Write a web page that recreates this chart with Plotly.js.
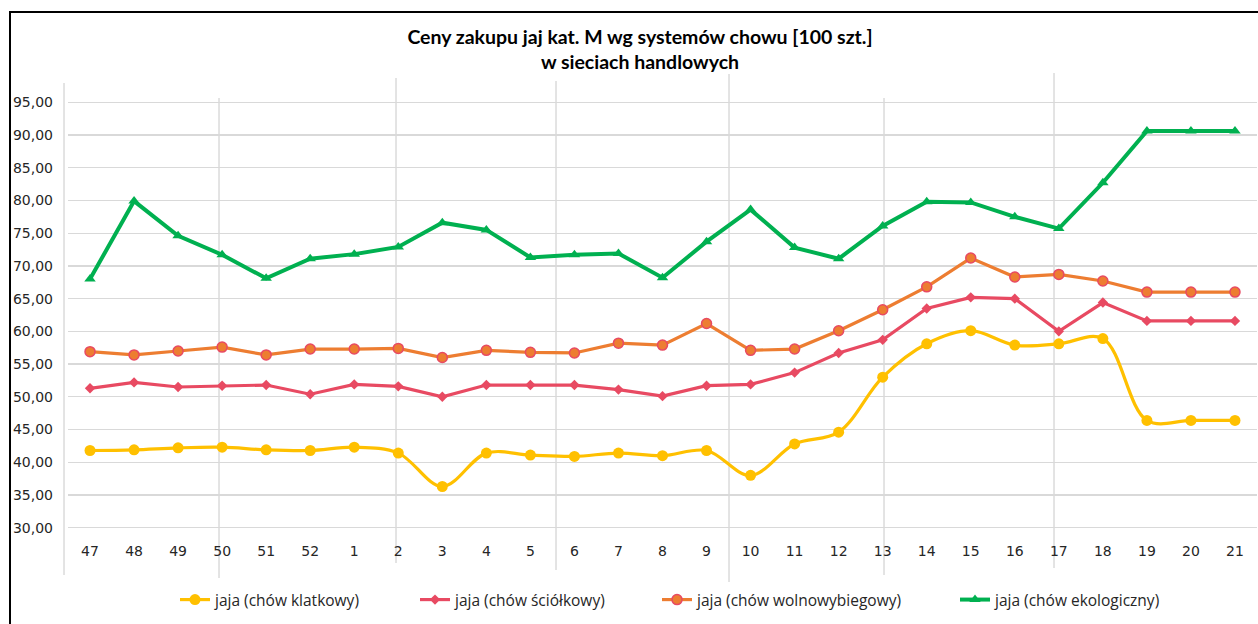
<!DOCTYPE html>
<html><head><meta charset="utf-8">
<script src="https://cdn.plot.ly/plotly-3.0.1.min.js"></script>
<style>
html,body{margin:0;padding:0;background:#fff;overflow:hidden}
#frame{position:absolute;left:9px;top:11px;width:1400px;height:800px;border-left:2px solid #000;border-top:2px solid #000;box-sizing:border-box}
#chart{position:absolute;left:0;top:0;width:1258px;height:624px}
</style></head><body>
<div id="frame"></div><div id="chart"></div>
<script>
const weeks = ['47','48','49','50','51','52','1','2','3','4','5','6','7','8','9','10','11','12','13','14','15','16','17','18','19','20','21'];
const klatkowy = [41.8,41.9,42.2,42.3,41.9,41.8,42.3,41.4,36.3,41.4,41.1,40.9,41.4,41.0,41.8,38.0,42.8,44.6,53.0,58.1,60.1,57.9,58.1,58.9,46.4,46.4,46.4];
const sciolkowy = [51.3,52.2,51.5,51.7,51.8,50.4,51.9,51.6,50.0,51.8,51.8,51.8,51.1,50.1,51.7,51.9,53.7,56.7,58.7,63.5,65.2,65.0,60.0,64.4,61.6,61.6,61.6];
const wolnowybiegowy = [56.9,56.4,57.0,57.6,56.4,57.3,57.3,57.4,56.0,57.1,56.8,56.7,58.2,57.9,61.2,57.1,57.3,60.1,63.3,66.8,71.2,68.3,68.7,67.7,66.0,66.0,66.0];
const ekologiczny = [68.0,79.9,74.6,71.7,68.1,71.1,71.8,72.9,76.6,75.5,71.3,71.7,71.9,68.2,73.7,78.6,72.8,71.1,76.1,79.8,79.7,77.5,75.7,82.7,90.6,90.6,90.6];
const seriesNames = ['jaja (chów klatkowy)','jaja (chów ściółkowy)','jaja (chów wolnowybiegowy)','jaja (chów ekologiczny)'];
const yTicks = [30,35,40,45,50,55,60,65,70,75,80,85,90,95];
const yTickText = yTicks.map(v => v.toFixed(2).replace('.', ','));

// plot-area geometry (pixels)
const L = 68, R = 1257, T = 99, B = 531;
const W = R - L, H = B - T;
const px = p => (p - L) / W;
const py = p => (B - p) / H;

// decorative vertical separator lines [x, yTop, yBottom] in px
const separators = [[64,83,575],[219,98,578],[396,78,563],[556,81,570],[729,74,582],[884,98,575],[1054,73,568]];
const shapes = separators.map(s => ({
  type:'line', xref:'paper', yref:'paper', x0:px(s[0]), x1:px(s[0]), y0:py(s[1]), y1:py(s[2]),
  line:{color:'#c8c8c8', width:1}, layer:'below'
}));

const textColor = '#262626';
const legFont = {family:'Open Sans, sans-serif', size:15.5, color:textColor};
const legendX = [175, 415, 657, 955];
const mkLegend = x => ({orientation:'h', x:px(x), xanchor:'left', y:py(600), yanchor:'middle', bgcolor:'rgba(0,0,0,0)', font:legFont, itemclick:false});

const traces = [
  {x:weeks, y:klatkowy, name:seriesNames[0], type:'scatter', mode:'lines+markers', legend:'legend',
   line:{color:'#FFC000', width:3.2, shape:'spline', smoothing:1}, marker:{symbol:'circle', size:11, color:'#FFC000'}, cliponaxis:false},
  {x:weeks, y:sciolkowy, name:seriesNames[1], type:'scatter', mode:'lines+markers', legend:'legend2',
   line:{color:'#E84A62', width:3.2}, marker:{symbol:'diamond', size:8, color:'#E84A62'}, cliponaxis:false},
  {x:weeks, y:wolnowybiegowy, name:seriesNames[2], type:'scatter', mode:'lines+markers', legend:'legend3',
   line:{color:'#ED7D31', width:3.2}, marker:{symbol:'circle', size:10, color:'#ED7D31', line:{color:'#E84A62', width:1.5}}, cliponaxis:false},
  {x:weeks, y:ekologiczny, name:seriesNames[3], type:'scatter', mode:'lines+markers', legend:'legend4',
   line:{color:'#00B050', width:4}, marker:{symbol:'triangle-up', size:10, color:'#00B050'}, cliponaxis:false}
];

const layout = {
  width:1258, height:624,
  margin:{l:L, r:1258-R, t:T, b:624-B, pad:0},
  paper_bgcolor:'rgba(0,0,0,0)', plot_bgcolor:'rgba(0,0,0,0)',
  title:{text:'Ceny zakupu jaj kat. M wg systemów chowu [100 szt.]<br>w sieciach handlowych',
    font:{family:'Lato, sans-serif', size:19.5, color:'#000', weight:'bold'},
    xref:'container', x:640/1258, xanchor:'center', yref:'container', y:1-44/624, yanchor:'top'},
  xaxis:{type:'category', range:[-0.5, weeks.length-0.5], autorange:false, showgrid:false, zeroline:false, showline:false, ticks:'',
    tickfont:{family:'DejaVu Sans, sans-serif', size:14, color:textColor}, ticklabelstandoff:10, fixedrange:true},
  yaxis:{range:[29.5,95.5], tickvals:yTicks, ticktext:yTickText, showgrid:true, gridcolor:'#d9d9d9', gridwidth:1.3,
    zeroline:false, showline:false, ticks:'', tickfont:{family:'DejaVu Sans, sans-serif', size:14, color:textColor},
    ticklabelstandoff:14, fixedrange:true},
  legend:mkLegend(legendX[0]), legend2:mkLegend(legendX[1]), legend3:mkLegend(legendX[2]), legend4:mkLegend(legendX[3]),
  shapes:shapes, showlegend:true
};

Plotly.newPlot('chart', traces, layout, {displayModeBar:false, staticPlot:true});
</script>
</body></html>
